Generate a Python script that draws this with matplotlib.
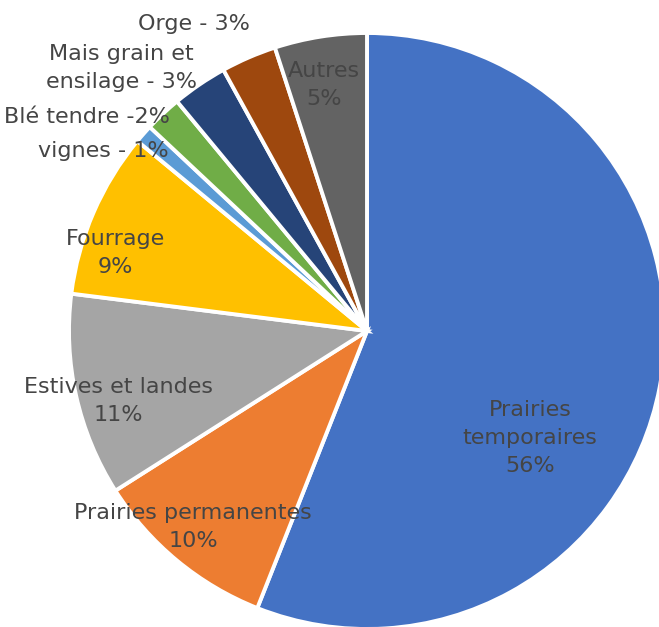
import matplotlib.pyplot as plt

labels = ["Prairies\ntemporaires\n56%", "Prairies permanentes\n10%", "Estives et landes\n11%",
          "Fourrage\n9%", "vignes - 1%", "Blé tendre -2%", "Mais grain et\nensilage - 3%",
          "Orge - 3%", "Autres\n5%"]
shares = [56, 10, 11, 9, 1, 2, 3, 3, 5]
colors = ["#4472C4", "#ED7D31", "#A5A5A5", "#FFC000", "#5B9BD5", "#70AD47",
          "#264478", "#9E480E", "#636363"]

# label centres in pixel coords (from top-left)
label_pos = [(530, 438), (193, 527), (118, 401), (115, 253), (103, 151),
             (87, 117), (121, 68), (194, 24), (324, 85)]

W, H = 659, 627
fig = plt.figure(figsize=(W / 100, H / 100), dpi=100)
ax = fig.add_axes([0, 0, 1, 1])

ax.pie(shares, colors=colors, startangle=90, counterclock=False,
       center=(367, H - 331), radius=298,
       wedgeprops=dict(edgecolor="white", linewidth=2.8), frame=True)
ax.set_xlim(0, W)
ax.set_ylim(0, H)
ax.set_aspect("equal")
ax.axis("off")

for text, (x, y) in zip(labels, label_pos):
    ax.text(x, H - y, text, ha="center", va="center", fontsize=16,
            color="#454545", family="DejaVu Sans", linespacing=1.5)

fig.savefig("out.png", dpi=100)
